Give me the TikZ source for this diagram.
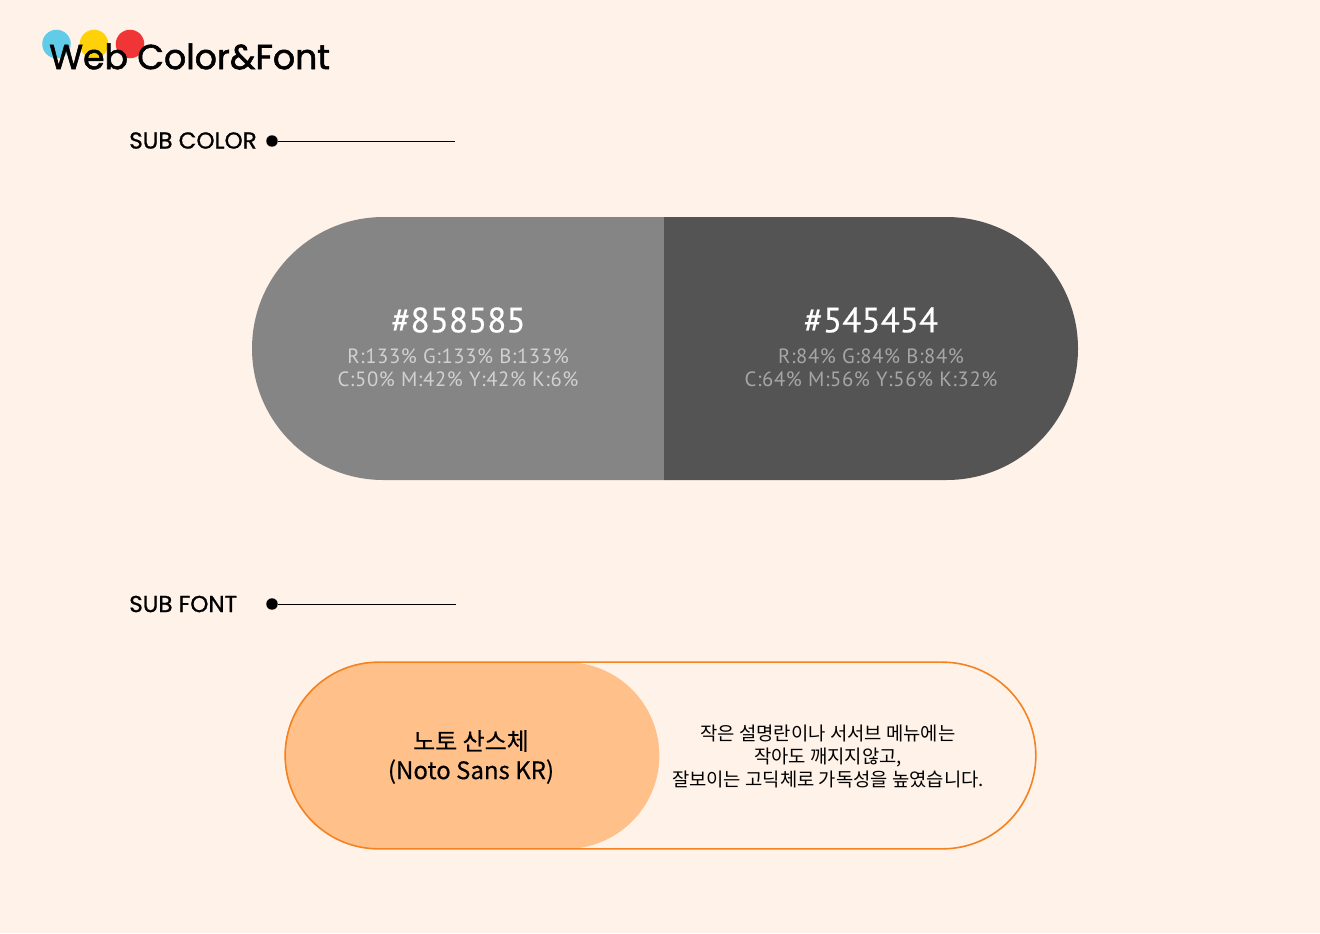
\documentclass[tikz,border=0pt]{standalone}
\usepackage{fontspec}
\usepackage{xcolor}
\usetikzlibrary{shapes.misc}
\setmainfont{Noto Sans CJK KR}
\newfontfamily\headfont[FakeBold=1.6]{Poppins}
\newfontfamily\labelfont[FakeBold=1]{Poppins}
\newfontfamily\codefont[FakeBold=0.3]{PT Sans}
\newfontfamily\valuefont[LetterSpace=3]{PT Sans}
\newfontfamily\namefont[FakeBold=0.3]{Noto Sans CJK KR}
\definecolor{tbg}{RGB}{255,242,233}
\definecolor{tgreyA}{RGB}{133,133,133}
\definecolor{tgreyB}{RGB}{84,84,84}
\definecolor{torange}{RGB}{245,130,32}
\definecolor{tpeach}{RGB}{255,192,138}
\definecolor{tsky}{RGB}{97,204,232}
\definecolor{tyellow}{RGB}{255,209,8}
\definecolor{tred}{RGB}{239,53,53}

\begin{document}
\begin{tikzpicture}[
    x=0.75pt, y=-0.75pt,
    spot/.style={circle, fill=#1, minimum size=21.4pt, inner sep=0pt},
    head/.style={font=\labelfont\fontsize{17.3pt}{20pt}\selectfont, anchor=west, inner sep=0pt},
    dot/.style={circle, fill=black, minimum size=8.6pt, inner sep=0pt},
    rule/.style={draw=black, line width=0.75pt},
    halfpill/.style={rounded rectangle, fill=#1, draw=none, minimum height=197.25pt, inner sep=0pt},
    code/.style={font=\codefont\fontsize{26.4pt}{30pt}\selectfont, text=white, inner sep=0pt},
    values/.style={font=\valuefont\fontsize{15.5pt}{17.25pt}\selectfont, align=center, inner sep=0pt},
]

% ---------- page ----------
\fill[tbg] (0,0) rectangle (1320,933);

% ---------- logo ----------
\node[spot=tsky]    (blue)   at (56.5,44) {};
\node[spot=tyellow] (yellow) at (94,44) {};
\node[spot=tred]    (red)    at (130,44) {};
\node[font=\headfont\fontsize{26pt}{30pt}\selectfont, anchor=west, inner sep=0pt] (logo) at (49,56.5) {Web Color\&Font};

% ---------- sub color ----------
\node[head] (subcolor) at (129,140.5) {SUB COLOR};
\node[dot] (colordot) at (272,141) {};
\coordinate (colorend) at (455,141);
\draw[rule] (colordot) -- (colorend);

\node[halfpill=tgreyA, rounded rectangle east arc=none, minimum width=309pt] (greyA) at (458,348.5) {};
\node[halfpill=tgreyB, rounded rectangle west arc=none, minimum width=310.5pt] (greyB) at (871,348.5) {};

\node[code] (codeA) at (458.5,320) {\#858585};
\node[values, text=white!62!tgreyA] (valA) at (458,367.5) {R:133\% G:133\% B:133\%\\C:50\% M:42\% Y:42\% K:6\%};
\node[code] (codeB) at (871,320) {\#545454};
\node[values, text=white!48!tgreyB] (valB) at (871,367.5) {R:84\% G:84\% B:84\%\\C:64\% M:56\% Y:56\% K:32\%};

% ---------- sub font ----------
\node[head] (subfont) at (129,604) {SUB FONT};
\node[dot] (fontdot) at (272,604) {};
\coordinate (fontend) at (456,604);
\draw[rule] (fontdot) -- (fontend);

\node[rounded rectangle, fill=tpeach, draw=none, minimum width=281pt, minimum height=140pt, inner sep=0pt] (inner) at (472,755.5) {};
\node[rounded rectangle, draw=torange, line width=1.2pt, minimum width=563pt, minimum height=140pt, inner sep=0pt] (outer) at (660.5,755.5) {};

\node[font=\namefont\fontsize{18pt}{21.75pt}\selectfont, align=center, inner sep=0pt] (fontname) at (471,757) {노토 산스체\\(Noto Sans KR)};
\node[font=\fontsize{14.1pt}{17.25pt}\selectfont, align=center, inner sep=0pt] (fontnote) at (828,757) {작은 설명란이나 서서브 메뉴에는\\작아도 깨지지않고,\\잘보이는 고딕체로 가독성을 높였습니다.};

\end{tikzpicture}
\end{document}
